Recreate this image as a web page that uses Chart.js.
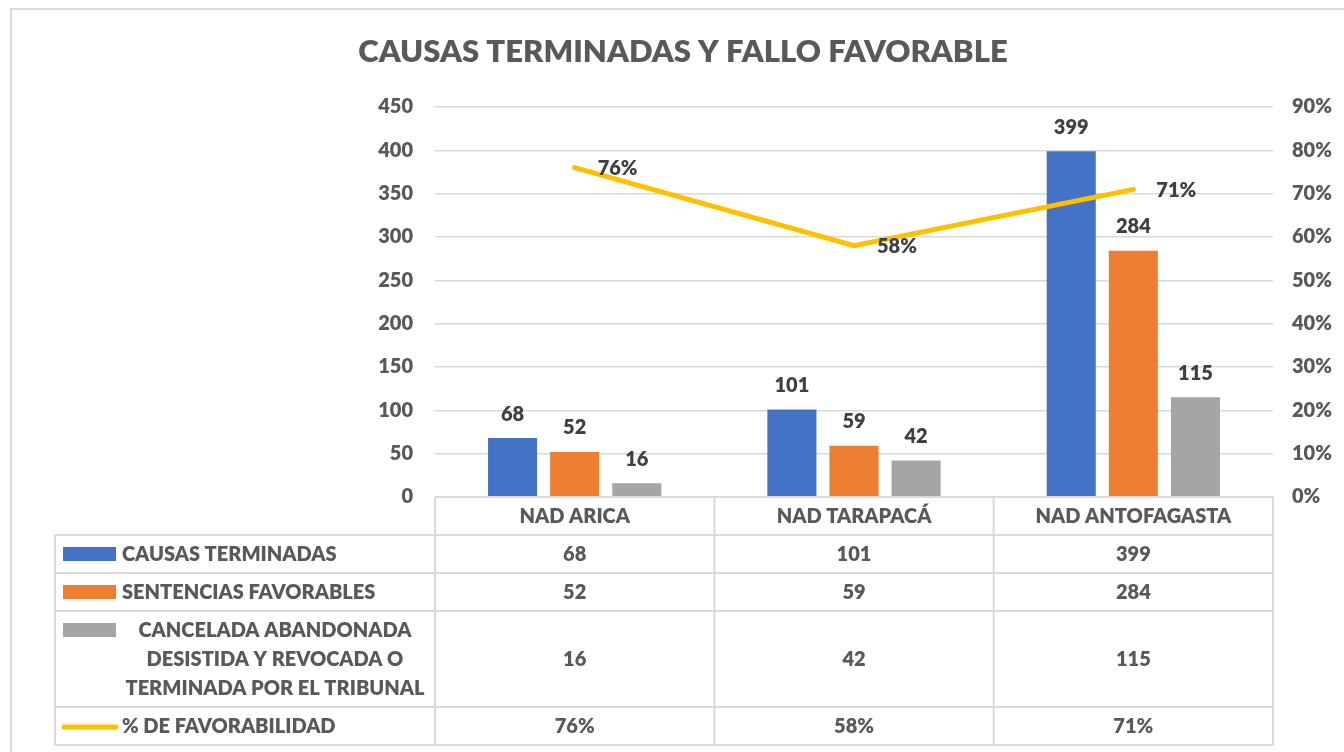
<!DOCTYPE html>
<html>
<head>
<meta charset="utf-8">
<script src="https://cdn.jsdelivr.net/npm/chart.js@4.4.0/dist/chart.umd.min.js"></script>
<style>
  html, body { margin: 0; padding: 0; background: #fff; }
  #wrap { width: 1344px; height: 752px; }
</style>
</head>
<body>
<div id="wrap"><canvas id="chart" width="1344" height="752"></canvas></div>
<script>
// data
const categories = ['NAD ARICA', 'NAD TARAPACÁ', 'NAD ANTOFAGASTA'];
const causasTerminadas = [68, 101, 399];
const sentenciasFavorables = [52, 59, 284];
const canceladas = [16, 42, 115];
const favorabilidad = [76, 58, 71];

const seriesNames = [
    'CAUSAS TERMINADAS',
    'SENTENCIAS FAVORABLES',
    'CANCELADA ABANDONADA|DESISTIDA Y REVOCADA O|TERMINADA POR EL TRIBUNAL',
    '% DE FAVORABILIDAD'
];
const leftAxisMax = 450, leftAxisStep = 50;
const rightAxisMax = 90, rightAxisStep = 10;

const FONT = 'Lato, "Open Sans", sans-serif';
const WEIGHT = '800';
const TEXT = '#595959';
const GRID = '#d9d9d9';
const colors = ['#4472C4', '#ED7D31', '#A5A5A5', '#FFC000'];

// value labels on bars and line
const valueLabels = {
    id: 'valueLabels',
    afterDatasetsDraw(chart) {
        const ctx = chart.ctx;
        ctx.save();
        ctx.font = WEIGHT + ' 20px ' + FONT;
        ctx.fillStyle = '#404040';
        chart.data.datasets.forEach((ds, i) => {
            const meta = chart.getDatasetMeta(i);
            meta.data.forEach((el, j) => {
                ctx.textBaseline = 'middle';
                if (ds.type === 'line') {
                    ctx.textAlign = 'left';
                    ctx.fillText(ds.data[j] + '%', el.x + 23, el.y + 1);
                } else {
                    ctx.textAlign = 'center';
                    ctx.fillText(ds.data[j], el.x, el.y - 24);
                }
            });
        });
        ctx.restore();
    }
};

// title, outer frame and the data table under the plot
const frameAndTable = {
    id: 'frameAndTable',
    afterDraw(chart) {
        const ctx = chart.ctx;
        const x = chart.scales.x;
        const area = chart.chartArea;
        const half = (x.getPixelForValue(1) - x.getPixelForValue(0)) / 2;
        const cols = categories.map((c, i) => x.getPixelForValue(i));
        const left = 55;
        const rowTops = [area.bottom, area.bottom + 38, area.bottom + 76, area.bottom + 114, area.bottom + 210];
        const tableBottom = area.bottom + 248;

        ctx.save();
        // outer frame
        ctx.strokeStyle = GRID;
        ctx.lineWidth = 2;
        ctx.strokeRect(11, 9, 1400, 800);

        // title
        ctx.fillStyle = TEXT;
        ctx.font = WEIGHT + ' 31px ' + FONT;
        ctx.textAlign = 'center';
        ctx.textBaseline = 'middle';
        ctx.fillText('CAUSAS TERMINADAS Y FALLO FAVORABLE', 683, 52);

        // grid lines of the table
        ctx.strokeStyle = GRID;
        ctx.lineWidth = 2;
        ctx.beginPath();
        ctx.moveTo(area.left, rowTops[0]); ctx.lineTo(area.right, rowTops[0]);
        for (let r = 1; r < rowTops.length; r++) {
            ctx.moveTo(left, rowTops[r]); ctx.lineTo(area.right, rowTops[r]);
        }
        ctx.moveTo(left, tableBottom); ctx.lineTo(area.right, tableBottom);
        ctx.moveTo(left, rowTops[1]); ctx.lineTo(left, tableBottom);
        ctx.moveTo(area.left, rowTops[0]); ctx.lineTo(area.left, tableBottom);
        cols.forEach(c => {
            ctx.moveTo(c + half, rowTops[0]); ctx.lineTo(c + half, tableBottom);
        });
        ctx.stroke();

        // header and cells
        ctx.font = WEIGHT + ' 20px ' + FONT;
        ctx.fillStyle = TEXT;
        ctx.textAlign = 'center';
        ctx.textBaseline = 'middle';
        categories.forEach((c, i) => {
            ctx.fillText(c, cols[i], (rowTops[0] + rowTops[1]) / 2 + 1);
        });
        const rows = chart.data.datasets.slice().sort((a, b) => a.row - b.row);
        rows.forEach((ds, r) => {
            const top = rowTops[r + 1];
            const bottom = r + 2 < rowTops.length ? rowTops[r + 2] : tableBottom;
            const mid = (top + bottom) / 2 + 1;
            ds.data.forEach((v, i) => {
                ctx.fillText(ds.type === 'line' ? v + '%' : v, cols[i], mid);
            });
            // key
            if (ds.type === 'line') {
                ctx.strokeStyle = ds.borderColor;
                ctx.lineWidth = 5;
                ctx.lineCap = 'round';
                ctx.beginPath();
                ctx.moveTo(64, mid); ctx.lineTo(116, mid);
                ctx.stroke();
            } else {
                ctx.fillStyle = ds.backgroundColor;
                ctx.fillRect(63, top + 12, 53, 14);
            }
            // label
            ctx.fillStyle = TEXT;
            const lines = seriesNames[r].split('|');
            if (lines.length === 1) {
                ctx.textAlign = 'left';
                ctx.fillText(lines[0], 122, mid);
            } else {
                ctx.textAlign = 'center';
                lines.forEach((t, k) => ctx.fillText(t, 275, mid + (k - 1) * 29));
            }
            ctx.textAlign = 'center';
        });
        ctx.restore();
    }
};

new Chart(document.getElementById('chart'), {
    type: 'bar',
    data: {
        labels: categories,
        datasets: [
            {
                type: 'line', row: 3, label: seriesNames[3], data: favorabilidad, yAxisID: 'y2',
                borderColor: colors[3], borderWidth: 5, pointRadius: 0, tension: 0,
                borderCapStyle: 'round', order: 0
            },
            { label: seriesNames[0], row: 0, data: causasTerminadas, backgroundColor: colors[0], order: 1 },
            { label: seriesNames[1], row: 1, data: sentenciasFavorables, backgroundColor: colors[1], order: 1 },
            { label: seriesNames[2], row: 2, data: canceladas, backgroundColor: colors[2], order: 1 }
        ]
    },
    options: {
        responsive: false,
        animation: false,
        categoryPercentage: 0.667,
        barPercentage: 0.79,
        layout: { padding: { top: 107, bottom: 255, left: 0, right: 0 } },
        plugins: { legend: { display: false }, title: { display: false }, tooltip: { enabled: false } },
        scales: {
            x: { display: false, offset: true },
            y: {
                position: 'left', min: 0, max: leftAxisMax,
                ticks: { stepSize: leftAxisStep, padding: 22, color: TEXT, font: { family: FONT, size: 20, weight: WEIGHT } },
                grid: { color: GRID, lineWidth: 1.5, drawTicks: false },
                border: { display: false },
                afterFit: s => { s.width = 435; }
            },
            y2: {
                position: 'right', min: 0, max: rightAxisMax,
                ticks: { stepSize: rightAxisStep, padding: 11, color: TEXT, font: { family: FONT, size: 20, weight: WEIGHT },
                    callback: v => v + '%' },
                grid: { display: false },
                border: { display: false },
                afterFit: s => { s.width = 71; }
            }
        }
    },
    plugins: [valueLabels, frameAndTable]
});
</script>
</body>
</html>
